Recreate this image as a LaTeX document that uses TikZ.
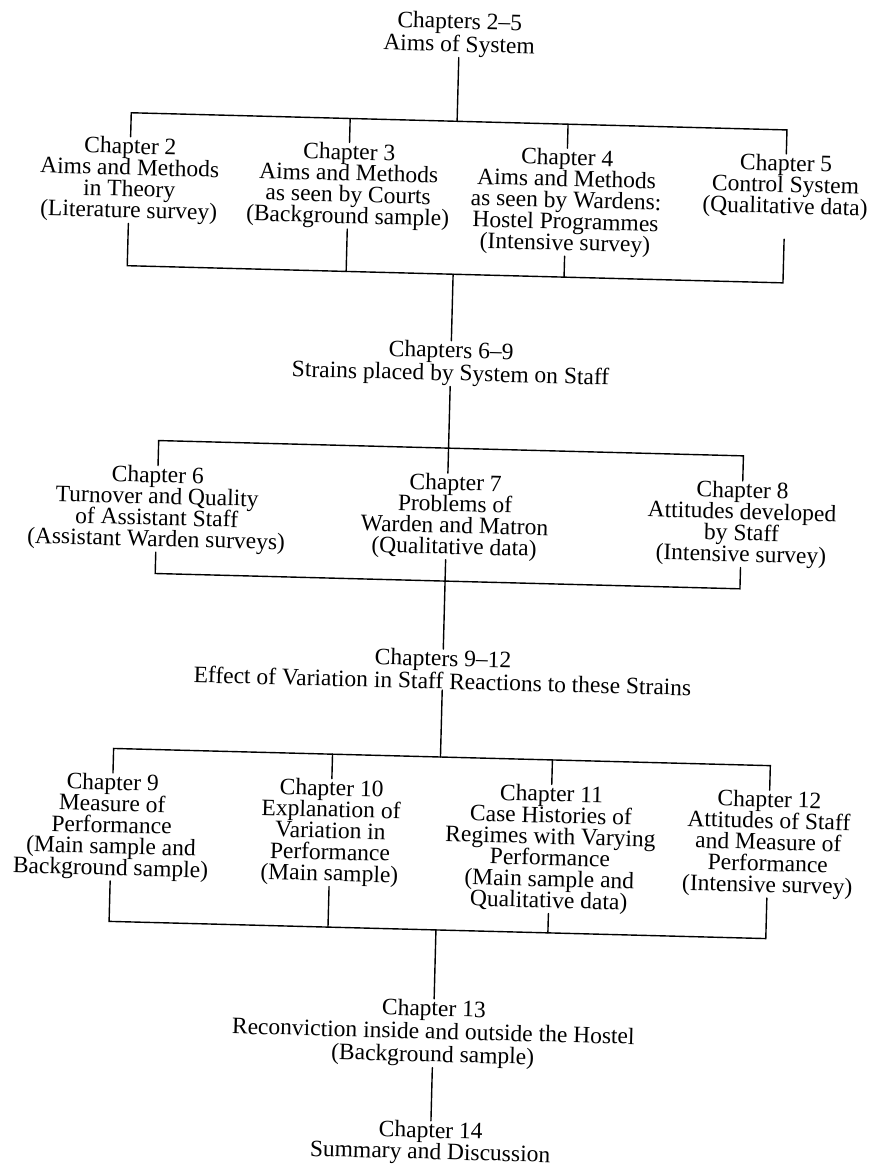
\documentclass[tikz,border=0pt]{standalone}
\usepackage{fontspec}
\setmainfont{Liberation Serif}
\newcommand\boxfont{\fontsize{23.5}{21.3}\selectfont\lineskiplimit=-20pt\relax}
\newcommand\headfont{\fontsize{23.5}{23}\selectfont\lineskiplimit=-20pt\relax}
\begin{document}
\begin{tikzpicture}[x=1pt, y=-1pt, line width=1.4pt, line cap=round,
	box/.style={anchor=north, inner sep=0pt, align=center, font=\boxfont},
	head/.style={box, font=\headfont}]
	\useasboundingbox (0,0) rectangle (879,1169);
	\begin{scope}[rotate around={-1.5:(440,585)}, transform shape] % the page is scanned slightly askew
		\def\ax{445}
		\coordinate (b1t) at (\ax,121); \coordinate (b1b) at (\ax,274);
		\coordinate (b2t) at (\ax,448); \coordinate (b2b) at (\ax,581);
		\coordinate (b3t) at (\ax,757); \coordinate (b3b) at (\ax,930);
		% headings
		\node[head] (top) at (\ax,11.5) {Chapters 2–5\\Aims of System};
		\node[head] (h69) at (\ax,340.5) {Chapters 6–9\\Strains placed by System on Staff};
		\node[head] (h912) at (\ax,649) {Chapters 9–12\\Effect of Variation in Staff Reactions to these Strains};
		\node[head] (ch13) at (\ax,999) {Chapter 13\\Reconviction inside and outside the Hostel\\(Background sample)};
		\node[box] (ch14) at (\ax,1121) {Chapter 14\\Summary and Discussion};
		% first group
		\node[box] (ch2) at (119,145) {Chapter 2\\Aims and Methods\\in Theory\\(Literature survey)};
		\node[box] (ch3) at (338,145) {Chapter 3\\Aims and Methods\\as seen by Courts\\(Background sample)};
		\node[box] (ch4) at (556,145) {Chapter 4\\Aims and Methods\\as seen by Wardens:\\Hostel Programmes\\(Intensive survey)};
		\node[box] (ch5) at (775,145) {Chapter 5\\Control System\\(Qualitative data)};
		% second group
		\node[box] (ch6) at (155,473) {Chapter 6\\Turnover and Quality\\of Assistant Staff\\(Assistant Warden surveys)};
		\node[box] (ch7) at (453,473) {Chapter 7\\Problems of\\Warden and Matron\\(Qualitative data)};
		\node[box] (ch8) at (740,473) {Chapter 8\\Attitudes developed\\by Staff\\(Intensive survey)};
		% third group
		\node[box] (ch9) at (118,781.5) {Chapter 9\\Measure of\\Performance\\(Main sample and\\Background sample)};
		\node[box] (ch10) at (337,781.5) {Chapter 10\\Explanation of\\Variation in\\Performance\\(Main sample)};
		\node[box] (ch11) at (557,781.5) {Chapter 11\\Case Histories of\\Regimes with Varying\\Performance\\(Main sample and\\Qualitative data)};
		\node[box] (ch12) at (775,781.5) {Chapter 12\\Attitudes of Staff\\and Measure of\\Performance\\(Intensive survey)};
		% spine
		\draw (top.south) -- (b1t);
		\draw (b1b) -- (h69.north);
		\draw (h69.south) -- (b2t);
		\draw (b2b) -- (h912.north);
		\draw (h912.south) -- (b3t);
		\draw (b3b) -- (ch13.north);
		\draw (ch13.south) -- (ch14.north);
		% brackets
		\draw (ch2.north) -- (ch2.north |- b1t) -- (ch5.north |- b1t) -- (ch5.north);
		\draw (ch3.north) -- (ch3.north |- b1t) (ch4.north) -- (ch4.north |- b1t);
		\draw (ch2.south) -- (ch2.south |- b1b) -- (ch5.south |- b1b) -- ([yshift=-20pt]ch5.south);
		\draw (ch3.south) -- (ch3.south |- b1b) (ch4.south) -- (ch4.south |- b1b);
		\draw (ch6.north) -- (ch6.north |- b2t) -- (ch8.north |- b2t) -- (ch8.north);
		\draw (ch7.north -| b2t) -- (b2t);
		\draw (ch6.south) -- (ch6.south |- b2b) -- (ch8.south |- b2b) -- (ch8.south);
		\draw (ch7.south -| b2b) -- (b2b);
		\draw (ch9.north) -- (ch9.north |- b3t) -- (ch12.north |- b3t) -- (ch12.north);
		\draw (ch10.north) -- (ch10.north |- b3t) (ch11.north) -- (ch11.north |- b3t);
		\draw (ch9.south) -- (ch9.south |- b3b) -- (ch12.south |- b3b) -- (ch12.south);
		\draw (ch10.south) -- (ch10.south |- b3b) (ch11.south) -- (ch11.south |- b3b);
	\end{scope}
\end{tikzpicture}
\end{document}
